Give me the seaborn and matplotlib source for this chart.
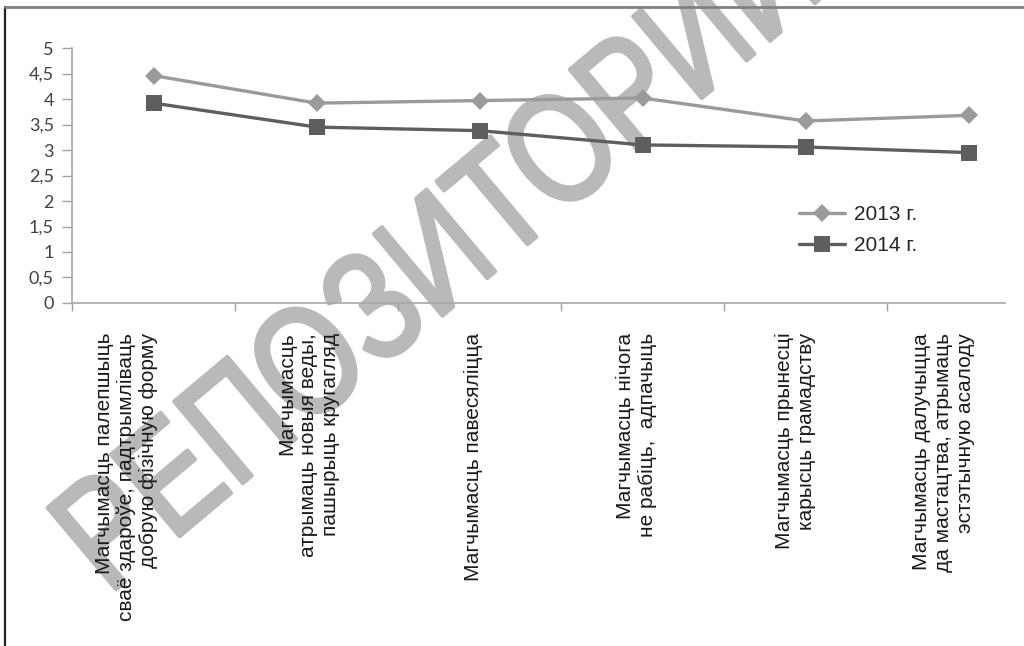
import matplotlib
matplotlib.use('Agg')
import matplotlib.pyplot as plt
import matplotlib.transforms as mtransforms
from matplotlib.lines import Line2D
from matplotlib.textpath import TextPath
from matplotlib.font_manager import FontProperties
from matplotlib.patches import PathPatch
import pandas as pd
import seaborn as sns

# дадзеныя, прачытаныя з малюнка
categories = [
    'Магчымасць палепшыць\nсваё здароўе, падтрымліваць\nдобрую фізічную форму',
    'Магчымасць\nатрымаць новыя веды,\nпашырыць кругагляд',
    'Магчымасць павесяліцца',
    'Магчымасць нічога\nне рабіць,  адпачыць',
    'Магчымасць прынесці\nкарысць грамадству',
    'Магчымасць далучыцца\nда мастацтва, атрымаць\nэстэтычную асалоду',
]
years = ['2013 г.', '2014 г.']
values_2013 = [4.46, 3.92, 3.97, 4.02, 3.57, 3.68]
values_2014 = [3.92, 3.45, 3.38, 3.10, 3.06, 2.95]
y_ticks = [0, 0.5, 1, 1.5, 2, 2.5, 3, 3.5, 4, 4.5, 5]
y_tick_labels = ['0', '0,5', '1', '1,5', '2', '2,5', '3', '3,5', '4', '4,5', '5']
watermark = 'РЕПОЗИТОРИЙ'

rows = []
for i, cat in enumerate(categories):
    rows.append({'pos': i, 'category': cat, 'year': years[0], 'value': values_2013[i]})
    rows.append({'pos': i, 'category': cat, 'year': years[1], 'value': values_2014[i]})
df = pd.DataFrame(rows)

sns.set_style('white')
plt.rcParams['font.family'] = ['Liberation Sans', 'DejaVu Sans']

fig = plt.figure(figsize=(10.24, 6.46), dpi=100)
ax = fig.add_axes([0.0703, 0.531, 0.9107, 0.3946])
ax.set_facecolor('none')

colors = ['#9a9a9a', '#5e5e5e']
sns.lineplot(data=df, x='pos', y='value', hue='year', style='year',
             markers=['D', 's'], dashes=False, palette=colors,
             linewidth=2.4, sort=False, ax=ax)

marker_sizes = [9, 11.5]
for line, c, ms in zip(ax.lines[:2], colors, marker_sizes):
    line.set_markersize(ms)
    line.set_markeredgecolor(c)
    line.set_markeredgewidth(0)

ax.set_ylim(0, 5)
ax.set_xlim(-0.5, 5.22)
ax.set_xlabel('')
ax.set_ylabel('')

ax.set_yticks(y_ticks)
ax.set_yticklabels(y_tick_labels, family=['Lato', 'DejaVu Sans'], fontsize=13, color='#404040')
ax.tick_params(axis='y', direction='out', length=7, width=1, color='#a0a0a0', pad=6, left=True)

ax.set_xticks(range(len(categories)))
ax.set_xticklabels(categories, rotation=90, fontsize=15, va='top', ha='center',
                   multialignment='right', color='#1a1a1a')
ax.set_xticks([i - 0.5 for i in range(len(categories))], minor=True)
ax.tick_params(axis='x', which='major', length=0, pad=21.5)
ax.tick_params(axis='x', which='minor', direction='out', length=6, width=1,
               color='#a0a0a0', bottom=True)

# зрух подпісаў катэгорый улева, як у арыгінале
label_shift_px = [-27, -8, -6, -6, -10, -25]
for lab, dx in zip(ax.get_xticklabels(), label_shift_px):
    lab.set_transform(lab.get_transform() + mtransforms.ScaledTranslation(dx / 100, 0, fig.dpi_scale_trans))

for side in ['top', 'right']:
    ax.spines[side].set_visible(False)
for side in ['left', 'bottom']:
    ax.spines[side].set_color('#a8a8a8')
    ax.spines[side].set_linewidth(1.2)

handles, labels = ax.get_legend_handles_labels()
for h, c, ms in zip(handles, colors, marker_sizes):
    h.set_markersize(ms)
    h.set_markeredgecolor(c)
    h.set_markeredgewidth(0)
    h.set_linewidth(2.4)
leg = ax.legend(handles, labels, loc='upper left', bbox_to_anchor=(0.762, 0.712),
                bbox_transform=fig.transFigure, frameon=False, fontsize=15,
                handlelength=2.2, handletextpad=0.45, labelspacing=0.6)

# вадзяны знак (вузкія літары па дыяганалі, пад графікам)
fp = FontProperties(family='Liberation Sans', weight='normal')
tp = TextPath((0, 0), watermark, size=155, prop=fp)
bb = tp.get_extents()
wm_tr = (mtransforms.Affine2D()
         .translate(-(bb.x0 + bb.x1) / 2, -(bb.y0 + bb.y1) / 2)
         .scale(0.80, 1.0)
         .rotate_deg(40)
         .translate(425, 406))
wm = PathPatch(wm_tr.transform_path(tp), facecolor='#b9b9b9', edgecolor='#b9b9b9',
               linewidth=3.0, joinstyle='round',
               transform=mtransforms.IdentityTransform(), zorder=-5)
fig.add_artist(wm)

# рамка
fig.add_artist(Line2D([5 / 1024, 5 / 1024], [0, 1 - 7 / 646], transform=fig.transFigure,
                      color='#222222', linewidth=1.6))
fig.add_artist(Line2D([5 / 1024, 1], [1 - 7 / 646, 1 - 7 / 646], transform=fig.transFigure,
                      color='#808080', linewidth=2.0))

fig.savefig('out.png', dpi=100)
